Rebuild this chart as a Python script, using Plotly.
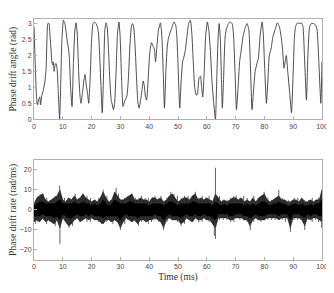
import plotly.graph_objects as go
from plotly.subplots import make_subplots

# ---- top panel: phase drift angle (rad) ----
angle_t = [0, 0.4, 0.8, 1.2, 1.6, 2.0, 2.3, 2.7, 3.2, 3.8, 4.2, 4.5, 4.8, 5.2, 5.5, 5.9, 6.2, 6.5, 6.7, 7.0,
           7.3, 7.6, 8.0, 8.4, 8.9, 9.3, 9.7, 10.2, 10.7, 11.2, 11.6, 12.0, 12.3, 12.7, 13.2, 13.7, 14.2, 14.6,
           15.0, 15.5, 16.0, 16.3, 16.8, 17.3, 17.7, 18.1, 18.6, 19.0, 19.5, 20.0, 20.5, 21.0, 21.5, 22.0,
           22.4, 22.9, 23.7, 24.2, 24.6, 25.0, 25.4, 25.8, 26.3, 26.8, 27.2, 27.6, 28.0, 28.5, 29.0, 29.5,
           29.9, 30.4, 30.9, 31.4, 31.9, 32.3, 32.8, 33.3, 33.8, 34.2, 34.6, 35.1, 35.6, 36.1, 36.5, 37.0,
           37.5, 37.9, 38.3, 38.7, 39.1, 39.6, 40.2, 40.8, 41.3, 41.8, 42.2, 42.7, 43.2, 43.9, 44.4, 44.9,
           45.3, 45.8, 46.2, 46.6, 47.2, 47.8, 48.6, 49.2, 49.6, 50.1, 50.6, 51.1, 51.6, 52.2, 52.6, 53.1,
           53.7, 54.3, 54.8, 55.3, 55.8, 56.4, 56.8, 57.3, 57.8, 58.2, 58.6, 59.1, 59.6, 60.2, 60.7, 61.2,
           61.8, 62.4, 63.0, 63.5, 64.0, 64.3, 64.7, 65.1, 65.4, 65.8, 66.3, 66.7, 67.3, 68.0, 68.8, 69.3,
           69.8, 70.3, 70.8, 71.4, 72.0, 72.6, 73.4, 74.0, 74.6, 75.1, 75.7, 76.3, 76.8, 77.4, 77.9, 78.5,
           79.2, 79.6, 80.1, 80.7, 81.2, 81.7, 82.3, 83.0, 83.7, 84.5, 85.2, 85.8, 86.3, 86.8, 87.2, 87.6,
           88.1, 88.8, 89.4, 89.9, 90.4, 90.8, 91.5, 92.3, 92.9, 93.4, 93.9, 94.6, 95.1, 95.7, 96.3, 97.0,
           97.8, 98.3, 98.8, 99.6, 100]
angle_v = [2.9, 1.8, 0.8, 0.45, 0.6, 0.7, 0.45, 0.75, 0.9, 1.2, 1.6, 2.5, 3.0, 3.0, 2.7, 2.2, 1.8, 1.7, 1.8, 1.5,
           1.7, 1.75, 1.6, 0.9, 0.0, 1.2, 2.5, 3.1, 3.0, 2.7, 2.4, 2.2, 1.9, 1.0, 0.4, 1.8, 2.8, 3.02,
           2.7, 1.5, 0.7, 0.5, 0.8, 1.2, 1.4, 1.1, 0.8, 0.5, 1.3, 2.5, 3.0, 3.05, 3.0, 2.9,
           2.7, 1.8, 0.2, 1.6, 2.8, 3.02, 2.9, 2.3, 1.3, 0.6, 0.45, 0.3, 0.5, 1.5, 2.7, 3.05,
           2.6, 1.3, 0.4, 0.55, 0.65, 0.75, 1.3, 2.3, 2.9, 3.0, 2.9, 2.3, 1.3, 0.5, 0.35, 0.6,
           0.9, 1.2, 1.05, 0.7, 0.6, 1.2, 2.1, 2.4, 2.3, 2.2, 1.8, 2.3, 2.8, 3.02, 2.6, 1.4,
           0.35, 1.5, 2.2, 2.5, 2.7, 2.85, 3.05, 2.95, 2.6, 1.5, 0.35, 1.2, 1.8, 2.0, 2.2, 2.6,
           3.0, 3.1, 2.7, 1.8, 1.0, 0.75, 0.8, 1.3, 1.35, 1.0, 0.7, 1.5, 2.6, 3.05, 2.8, 2.2,
           1.2, 0.5, 0.0, 1.4, 2.7, 3.0, 2.5, 1.2, 0.35, 1.2, 2.5, 2.8, 2.95, 3.05, 3.0, 2.6,
           1.5, 0.3, 0.9, 1.8, 2.2, 2.6, 2.9, 3.0, 2.8, 1.8, 0.3, 1.0, 1.5, 1.75, 1.9, 2.6,
           3.05, 2.7, 1.6, 0.5, 1.2, 2.0, 2.2, 2.6, 2.8, 3.02, 2.9, 2.6, 2.2, 1.6, 1.8, 2.0,
           1.5, 0.8, 0.2, 1.2, 2.5, 2.9, 3.02, 3.0, 3.02, 2.9, 2.0, 0.6, 2.0, 2.9, 3.0, 3.0,
           2.95, 2.8, 2.0, 0.5, 1.8]

# ---- bottom panel: phase drift rate (rad/ms), envelope per ms ----
rate_t = list(range(0, 101))
rate_hi = [3, 6, 7, 8, 5, 4, 5, 6, 7, 10, 5, 4, 6, 5, 7, 5, 6, 8, 6, 5,
           4, 5, 4, 6, 9, 6, 4, 5, 9, 7, 5, 5, 6, 7, 8, 5, 5, 6, 5, 5,
           4, 6, 6, 5, 6, 4, 5, 7, 8, 6, 4, 5, 6, 6, 5, 7, 8, 5, 6, 5,
           6, 5, 4, 8, 6, 4, 5, 4, 5, 6, 6, 5, 6, 4, 5, 4, 6, 4, 6, 7,
           8, 5, 4, 5, 6, 7, 5, 5, 4, 4, 5, 5, 4, 6, 4, 4, 5, 4, 5, 5, 10]
rate_lo = [-6, -5, -6, -4, -6, -5, -6, -7, -5, -9, -4, -6, -8, -7, -5, -4, -6, -5, -4, -5,
           -4, -5, -5, -6, -7, -5, -5, -6, -5, -6, -9, -6, -4, -5, -6, -5, -7, -5, -5, -6,
           -5, -5, -4, -5, -6, -9, -5, -4, -5, -5, -5, -7, -6, -4, -5, -6, -4, -5, -5, -4,
           -5, -5, -7, -9, -4, -4, -4, -4, -5, -5, -4, -4, -4, -5, -5, -8, -5, -4, -5, -5,
           -5, -4, -4, -4, -4, -5, -4, -4, -4, -9, -4, -4, -4, -5, -8, -4, -5, -4, -4, -5, -6]
rate_core_hi = [2, 3, 4, 4, 3, 3, 3, 3, 4, 5, 3, 3, 3, 3, 4, 3, 3, 4, 3, 3,
                2, 3, 2, 3, 5, 3, 2, 3, 5, 4, 3, 3, 3, 4, 4, 3, 3, 3, 3, 3,
                2, 3, 3, 3, 3, 2, 3, 4, 4, 3, 2, 3, 3, 3, 3, 4, 4, 3, 3, 3,
                3, 3, 2, 4, 3, 2, 3, 2, 3, 3, 3, 3, 3, 2, 3, 2, 3, 2, 3, 4,
                4, 3, 2, 3, 3, 4, 3, 3, 2, 2, 3, 3, 2, 3, 2, 2, 3, 2, 3, 3, 5]
rate_core_lo = [-3, -3, -3, -2, -3, -3, -3, -4, -3, -5, -2, -3, -4, -4, -3, -2, -3, -3, -2, -3,
                -2, -3, -3, -3, -4, -3, -3, -3, -3, -3, -5, -3, -2, -3, -3, -3, -4, -3, -3, -3,
                -3, -3, -2, -3, -3, -5, -3, -2, -3, -3, -3, -4, -3, -2, -3, -3, -2, -3, -3, -2,
                -3, -3, -4, -5, -2, -2, -2, -2, -3, -3, -2, -2, -2, -3, -3, -4, -3, -2, -3, -3,
                -3, -2, -2, -2, -2, -3, -2, -2, -2, -5, -2, -2, -2, -3, -4, -2, -3, -2, -2, -3, -3]
spike_t = [0.6, 1.4, 2.1, 3.2, 4.4, 5.6, 6.7, 7.4, 8.3, 8.9, 9.0, 10.6, 11.5, 12.2, 13.4, 14.3, 15.6,
           17.0, 18.4, 19.6, 21.2, 22.5, 23.4, 24.0, 25.3, 26.6, 27.4, 28.5, 29.3, 30.0, 31.5, 32.6,
           34.0, 35.2, 36.3, 37.4, 38.6, 39.7, 40.8, 42.0, 43.3, 44.1, 45.0, 46.2, 47.5, 48.6, 49.8,
           51.1, 52.3, 53.5, 54.6, 56.0, 57.2, 58.4, 59.6, 60.8, 61.7, 62.6, 63.0, 63.1, 64.4, 65.7,
           67.0, 68.3, 69.4, 70.2, 71.5, 72.8, 74.0, 75.1, 76.3, 77.6, 78.8, 79.9, 81.2, 82.5, 83.7,
           85.0, 86.2, 87.3, 88.3, 89.0, 90.3, 91.6, 92.8, 94.0, 95.3, 96.6, 97.8, 98.8, 99.9]
spike_hi = [5, 7, 8, 8, 6, 5, 6, 7, 8, 12, 6, 6, 5, 5, 6, 8, 6,
            8, 7, 6, 5, 6, 5, 10, 7, 5, 6, 11, 8, 4, 6, 7,
            8, 6, 5, 7, 6, 6, 5, 7, 6, 7, 4, 6, 9, 8, 7,
            6, 7, 7, 6, 9, 6, 7, 6, 7, 5, 4, 21, 6, 7, 5,
            5, 6, 7, 7, 6, 7, 6, 4, 7, 5, 6, 9, 6, 5, 6,
            10, 6, 5, 5, 4, 6, 6, 5, 5, 5, 6, 5, 6, 10]
spike_lo = [-7, -6, -4, -5, -7, -6, -7, -8, -6, -6, -17, -5, -7, -9, -8, -5, -5,
            -4, -6, -6, -5, -6, -7, -6, -6, -6, -7, -4, -5, -10, -7, -5,
            -4, -6, -8, -6, -6, -7, -6, -5, -6, -5, -10, -6, -3, -4, -6,
            -8, -7, -5, -6, -3, -6, -6, -5, -6, -6, -13, -14.5, -8, -5, -5,
            -5, -6, -6, -3, -5, -5, -6, -10, -6, -5, -6, -4, -5, -5, -5,
            -4, -5, -6, -5, -11, -5, -5, -5, -10, -5, -6, -5, -6, -9]

fig = make_subplots(rows=2, cols=1, vertical_spacing=0.168)

fig.add_trace(go.Scatter(x=angle_t, y=angle_v, mode="lines",
                         line=dict(color="#3a3a3a", width=0.9, shape="spline", smoothing=0.5),
                         showlegend=False), row=1, col=1)

# outer envelope band
fig.add_trace(go.Scatter(x=rate_t, y=rate_lo, mode="lines", line=dict(color="#2a2a2a", width=0.5),
                         showlegend=False), row=2, col=1)
fig.add_trace(go.Scatter(x=rate_t, y=rate_hi, mode="lines", line=dict(color="#2a2a2a", width=0.5),
                         fill="tonexty", fillcolor="#2a2a2a", showlegend=False), row=2, col=1)
# spikes
sx, sy = [], []
for t, h, l in zip(spike_t, spike_hi, spike_lo):
    sx += [t, t, None]
    sy += [l, h, None]
fig.add_trace(go.Scatter(x=sx, y=sy, mode="lines", line=dict(color="#3a3a3a", width=0.8),
                         showlegend=False), row=2, col=1)
# dense core
fig.add_trace(go.Scatter(x=rate_t, y=rate_core_lo, mode="lines", line=dict(color="black", width=0.6),
                         showlegend=False), row=2, col=1)
fig.add_trace(go.Scatter(x=rate_t, y=rate_core_hi, mode="lines", line=dict(color="black", width=0.6),
                         fill="tonexty", fillcolor="black", showlegend=False), row=2, col=1)

axis_common = dict(showline=True, mirror=True, linecolor="#b0b0b0", linewidth=1, automargin=False,
                   ticks="inside", ticklen=3, tickcolor="#b0b0b0", showgrid=False, zeroline=False,
                   tickfont=dict(family="Liberation Sans, Arial", size=7, color="#444444"))

fig.update_xaxes(range=[0, 100], dtick=10, **axis_common)
fig.update_yaxes(**axis_common)
fig.update_yaxes(range=[0, 3.1416], tickvals=[0, 0.5, 1, 1.5, 2, 2.5, 3],
                 ticktext=["0", "0.5", "1", "1.5", "2", "2.5", "3"],
                 title=dict(text="Phase drift angle (rad)",
                            font=dict(family="Liberation Serif, Times New Roman", size=9.5, color="#333333")),
                 row=1, col=1)
fig.update_yaxes(range=[-25, 25], tickvals=[-20, -10, 0, 10, 20],
                 title=dict(text="Phase drift rate (rad/ms)",
                            font=dict(family="Liberation Serif, Times New Roman", size=9.5, color="#333333")),
                 row=2, col=1)
fig.update_xaxes(title=dict(text="Time (ms)", standoff=3,
                            font=dict(family="Liberation Serif, Times New Roman", size=9.5, color="#333333")),
                 row=2, col=1)

# the page body adds an 8 px offset, so the figure is sized to end at the window edge
fig.update_layout(width=326, height=285, margin=dict(l=26, r=12, t=11, b=33),
                  plot_bgcolor="white", paper_bgcolor="white")

fig.write_html("out.html")
